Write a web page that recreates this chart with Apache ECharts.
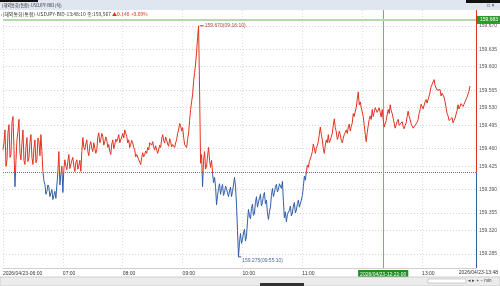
<!DOCTYPE html>
<html><head><meta charset="utf-8">
<script src="https://cdn.jsdelivr.net/npm/echarts@6/dist/echarts.min.js"></script>
<style>html,body{margin:0;padding:0;background:#fff}#c{width:500px;height:286px}</style>
</head><body><div id="c"></div>
<script>
// ---- data ----
const START = new Date(2026, 3, 23, 6, 0, 0).getTime();
const STEP_MIN = 1;            // sampling step of prices (minutes)
const END_MIN = 7 * 60 + 54;   // axis end (13:54)
const prices = [
159.458,159.470,159.492,159.430,159.441,159.488,159.501,159.445,159.450,159.505,159.515,159.460,159.395,159.440,159.475,159.490,159.510,159.452,159.441,159.470,
159.492,159.440,159.433,159.462,159.479,159.438,159.445,159.470,159.484,159.445,159.433,159.460,159.475,159.436,159.441,159.478,159.472,159.448,159.484,159.455,159.421,159.405,
159.399,159.382,159.387,159.398,159.394,159.378,159.380,159.390,159.373,159.380,159.387,159.375,159.378,159.420,159.455,159.398,159.416,159.430,159.385,159.425,
159.441,159.430,159.424,159.438,159.450,159.426,159.428,159.440,159.445,159.430,159.421,159.436,159.441,159.425,159.431,159.440,159.421,159.455,159.479,159.462,
159.458,159.468,159.475,159.455,159.448,159.466,159.472,159.460,159.455,159.470,159.467,159.452,159.458,159.480,159.487,159.470,159.475,159.486,159.481,159.466,
159.472,159.480,159.475,159.462,159.467,159.456,159.450,159.468,159.475,159.460,159.467,159.476,159.472,159.478,159.484,159.470,159.475,159.480,159.486,159.478,
159.492,159.486,159.481,159.470,159.475,159.462,159.467,159.474,159.470,159.462,159.458,159.446,159.450,159.447,159.441,159.437,159.433,159.445,159.453,159.446,
159.450,159.456,159.452,159.462,159.458,159.470,159.467,159.466,159.472,159.463,159.458,159.465,159.462,159.452,159.455,159.466,159.462,159.476,159.484,159.474,
159.470,159.480,159.475,159.468,159.464,159.477,159.472,159.463,159.467,159.470,159.462,159.470,159.475,159.486,159.492,159.503,159.499,159.490,159.496,159.480,
159.467,159.470,159.462,159.476,
159.487,159.508,159.527,159.540,159.552,159.575,159.590,159.605,159.625,159.650,159.670,159.560,159.435,159.450,159.395,159.440,159.455,159.425,159.430,159.448,
159.462,159.440,159.428,159.440,159.418,159.402,159.411,159.395,159.364,159.380,159.392,159.400,159.382,159.392,159.399,159.380,159.385,159.396,159.392,159.384,
159.378,159.388,159.394,159.378,159.387,159.398,159.411,159.395,159.364,159.320,159.275,159.300,159.315,159.298,159.305,159.316,159.322,159.302,159.310,159.335,
159.356,159.345,159.340,159.358,159.365,159.346,159.350,159.368,159.378,159.360,159.362,159.376,159.382,159.362,159.368,159.380,159.385,159.366,159.372,159.350,
159.339,159.352,159.360,159.380,159.392,159.378,159.385,159.395,159.399,159.386,159.390,159.400,159.396,159.392,159.404,159.370,159.342,159.352,159.335,159.348,
159.345,159.355,159.362,159.345,159.350,159.362,159.368,159.350,159.355,159.366,159.372,159.360,159.362,159.372,159.380,159.395,159.413,159.406,159.420,159.432,
159.428,159.438,159.441,159.448,159.455,159.468,159.465,159.452,159.460,159.466,159.472,159.485,159.497,159.484,159.475,159.460,159.452,159.466,159.475,159.470,
159.484,159.470,159.475,159.480,159.487,159.500,159.511,159.496,159.489,159.476,159.480,159.490,159.484,159.474,159.470,159.478,159.484,159.488,159.492,159.486,
159.497,159.502,159.490,159.498,159.504,159.520,159.515,159.524,159.530,159.545,159.557,159.535,159.540,159.530,159.527,159.515,159.500,159.485,159.472,159.488,
159.499,159.510,159.516,159.510,159.527,159.515,159.522,159.530,159.532,159.522,159.525,159.530,159.522,159.514,159.527,159.510,159.497,159.500,159.508,159.518,
159.527,159.520,159.535,159.525,159.520,159.512,159.510,159.495,159.501,159.506,159.510,159.500,159.497,159.502,159.506,159.498,159.494,159.500,159.504,159.515,
159.524,159.515,159.510,159.502,159.499,159.495,159.492,159.500,159.501,159.505,159.510,159.520,159.527,159.536,159.535,159.528,159.530,159.540,159.544,159.538,
159.540,159.550,159.557,159.566,159.570,159.572,159.578,159.568,159.565,159.560,159.557,159.563,159.561,159.550,159.555,159.552,159.548,159.540,159.530,159.520,
159.516,159.508,159.506,159.510,159.513,159.504,159.508,159.512,159.515,159.525,159.535,159.528,159.530,159.537,159.540,159.532,159.536,159.540,159.544,159.548,
159.550,159.558,159.567
];
const prevClose = 159.419;
const lastPrice = 159.567;
const lastChangePct = '+0.09%';
const yTicks = [159.285,159.320,159.355,159.390,159.425,159.460,159.495,159.530,159.565,159.600,159.635,159.670];
const yMin = 159.256, yMax = 159.697;
const maxMark = { h: 9, m: 16, s: 10, value: 159.670, text: '159.670(09:16:10)' };
const minMark = { h: 9, m: 55, s: 10, value: 159.275, text: '159.275(09:55:10)' };
const cross = { h: 12, m: 21, value: 159.683, timeText: '2026/04/23-12:21:00', valueText: '159.683' };

// ---- build ----
const RED = '#e2321f', BLUE = '#2f5ea8', GREEN = '#2c9a2c';
const FONT = 'Liberation Sans';
const t = (h, m, s) => new Date(2026, 3, 23, h, m, s || 0).getTime();
const END = START + END_MIN * 60000;
const lineData = prices.map((v, i) => [START + i * STEP_MIN * 60000, v]);
const pad = n => (n < 10 ? '0' : '') + n;

const gridLines = yTicks.map(v => ({ yAxis: v, label: { formatter: v.toFixed(3) } }));

const chart = echarts.init(document.getElementById('c'), null, { renderer: 'canvas' });
chart.setOption({
  animation: false,
  textStyle: { fontFamily: FONT },
  grid: { left: 2, right: 24, top: 10, bottom: 18 },
  xAxis: {
    type: 'time', min: START, max: END, interval: 3600000,
    axisLine: { show: true, lineStyle: { color: '#cfcfcf', width: 1 } },
    axisTick: { show: false },
    splitLine: { show: true, lineStyle: { color: '#dedede', type: [1, 2], width: 1 } },
    axisLabel: {
      fontSize: 5, color: '#333', align: 'left', margin: 3, fontFamily: FONT,
      showMinLabel: true, showMaxLabel: false, hideOverlap: false,
      formatter: function (val) {
        const d = new Date(val);
        const s = pad(d.getHours()) + ':' + pad(d.getMinutes());
        return val === START ? '2026/04/23-' + s : s;
      }
    }
  },
  yAxis: {
    type: 'value', position: 'right', min: yMin, max: yMax,
    axisLine: { show: false }, axisTick: { show: false },
    axisLabel: { show: false }, splitLine: { show: false }
  },
  visualMap: {
    type: 'piecewise', show: false, dimension: 1, seriesIndex: 0,
    pieces: [{ gt: prevClose, lte: 160, color: RED }, { gt: 159, lte: prevClose, color: BLUE }]
  },
  series: [
    {
      type: 'line', data: lineData, showSymbol: false, symbol: 'none',
      lineStyle: { width: 1 }, z: 5
    },
    {
      type: 'line', data: [], z: 3, silent: true,
      markLine: {
        symbol: 'none', silent: true, animation: false,
        lineStyle: { color: '#d4d4d4', type: [1, 2], width: 1 },
        label: { show: true, position: 'end', distance: 3, fontSize: 5, color: '#555', fontFamily: FONT },
        data: gridLines.concat([
          { yAxis: prevClose, lineStyle: { color: '#777', type: [1, 1], width: 1 }, label: { show: false } }
        ])
      }
    },
    {
      type: 'line', data: [], z: 6, silent: true,
      markLine: {
        symbol: 'none', silent: true, animation: false,
        data: [
          [{ coord: [END, prevClose], lineStyle: { color: RED, width: 1, type: 'solid' } }, { coord: [END, yMax] }],
          [{ coord: [END, yMin], lineStyle: { color: BLUE, width: 1, type: 'solid' } }, { coord: [END, prevClose] }],
          { xAxis: t(cross.h, cross.m), lineStyle: { color: '#6cb96c', width: 1, type: 'solid' },
            label: { show: true, position: 'start', distance: 2, formatter: cross.timeText, fontSize: 5, color: '#fff',
                     backgroundColor: '#1f8f1f', padding: [2, 2, 1, 2], fontFamily: FONT } },
          { yAxis: cross.value, lineStyle: { color: '#b3d9ad', width: 2, type: 'solid' },
            label: { show: true, position: 'end', distance: 1, formatter: cross.valueText, fontSize: 5, color: '#fff',
                     backgroundColor: GREEN, padding: [2, 3, 1, 3], fontFamily: FONT } },
          { yAxis: lastPrice, lineStyle: { opacity: 0 },
            label: { show: true, position: 'end', distance: 1, formatter: lastPrice.toFixed(3) + '\n' + lastChangePct,
                     fontSize: 5, lineHeight: 6, color: '#fff', backgroundColor: RED, padding: [1, 3, 0, 3], fontFamily: FONT } }
        ]
      },
      markPoint: {
        silent: true, animation: false,
        data: [
          { coord: [t(maxMark.h, maxMark.m, maxMark.s), maxMark.value], symbol: 'rect', symbolSize: [4, 1], symbolOffset: [3, 0],
            itemStyle: { color: '#c0392b' },
            label: { show: true, position: 'right', distance: 1, formatter: maxMark.text, fontSize: 5, color: '#b5473a', fontFamily: FONT } },
          { coord: [t(minMark.h, minMark.m, minMark.s), minMark.value], symbol: 'rect', symbolSize: [3, 1], symbolOffset: [2, 0],
            itemStyle: { color: '#3d5d9a' },
            label: { show: true, position: 'right', distance: 1, offset: [0, 4], formatter: minMark.text, fontSize: 5, color: '#4a6aa6', fontFamily: FONT } }
        ]
      }
    }
  ],
  graphic: [
    { type: 'rect', shape: { x: 0, y: 0, width: 500, height: 10 }, style: { fill: '#dfe6ef' }, z: 100 },
    { type: 'rect', shape: { x: 0, y: 0, width: 38, height: 2 }, style: { fill: '#111' }, z: 101 },
    { type: 'rect', shape: { x: 466, y: 0, width: 34, height: 3 }, style: { fill: '#111' }, z: 101 },
    { type: 'text', x: 2, y: 5.5, z: 102, style: { text: '(해외통화(통합)-USDJPY-BID (틱)', fontSize: 4.2, fill: '#333',
      verticalAlign: 'middle', fontFamily: 'Noto Sans CJK KR' } },
    { type: 'text', x: 487, y: 6, z: 102, style: { text: '□ ×', fontSize: 5, fill: '#333', verticalAlign: 'middle' } },
    { type: 'text', x: 1, y: 14, z: 102, style: {
      text: '{a|‹(해외통화(통합)-USDJPY-BID-13:48:10 종:159,567 }{b|▲0.148 +0.09%}',
      verticalAlign: 'middle', rich: {
        a: { fontSize: 5, fill: '#333', fontFamily: 'Noto Sans CJK KR' },
        b: { fontSize: 5, fill: '#e2321f', fontFamily: 'Noto Sans CJK KR' } } } },
    { type: 'text', x: 498, y: 273, z: 102, style: { text: '2026/04/23-13:48', fontSize: 5, fill: '#333',
      align: 'right', verticalAlign: 'middle', fontFamily: FONT } },
    { type: 'rect', shape: { x: 0, y: 277, width: 500, height: 9 }, style: { fill: '#ececec', stroke: '#cdcdcd', lineWidth: 1 }, z: 100 },
    { type: 'rect', shape: { x: 260, y: 283, width: 44, height: 3 }, style: { fill: '#333' }, z: 101 },
    { type: 'rect', shape: { x: 428, y: 279, width: 38, height: 4 }, style: { fill: '#fff', stroke: '#9aa', lineWidth: 0.5 }, z: 101 },
    { type: 'text', x: 468, y: 281, z: 102, style: { text: '◂ ▸ + − min', fontSize: 4.5, fill: '#444', verticalAlign: 'middle' } }
  ]
});
</script>
</body></html>
